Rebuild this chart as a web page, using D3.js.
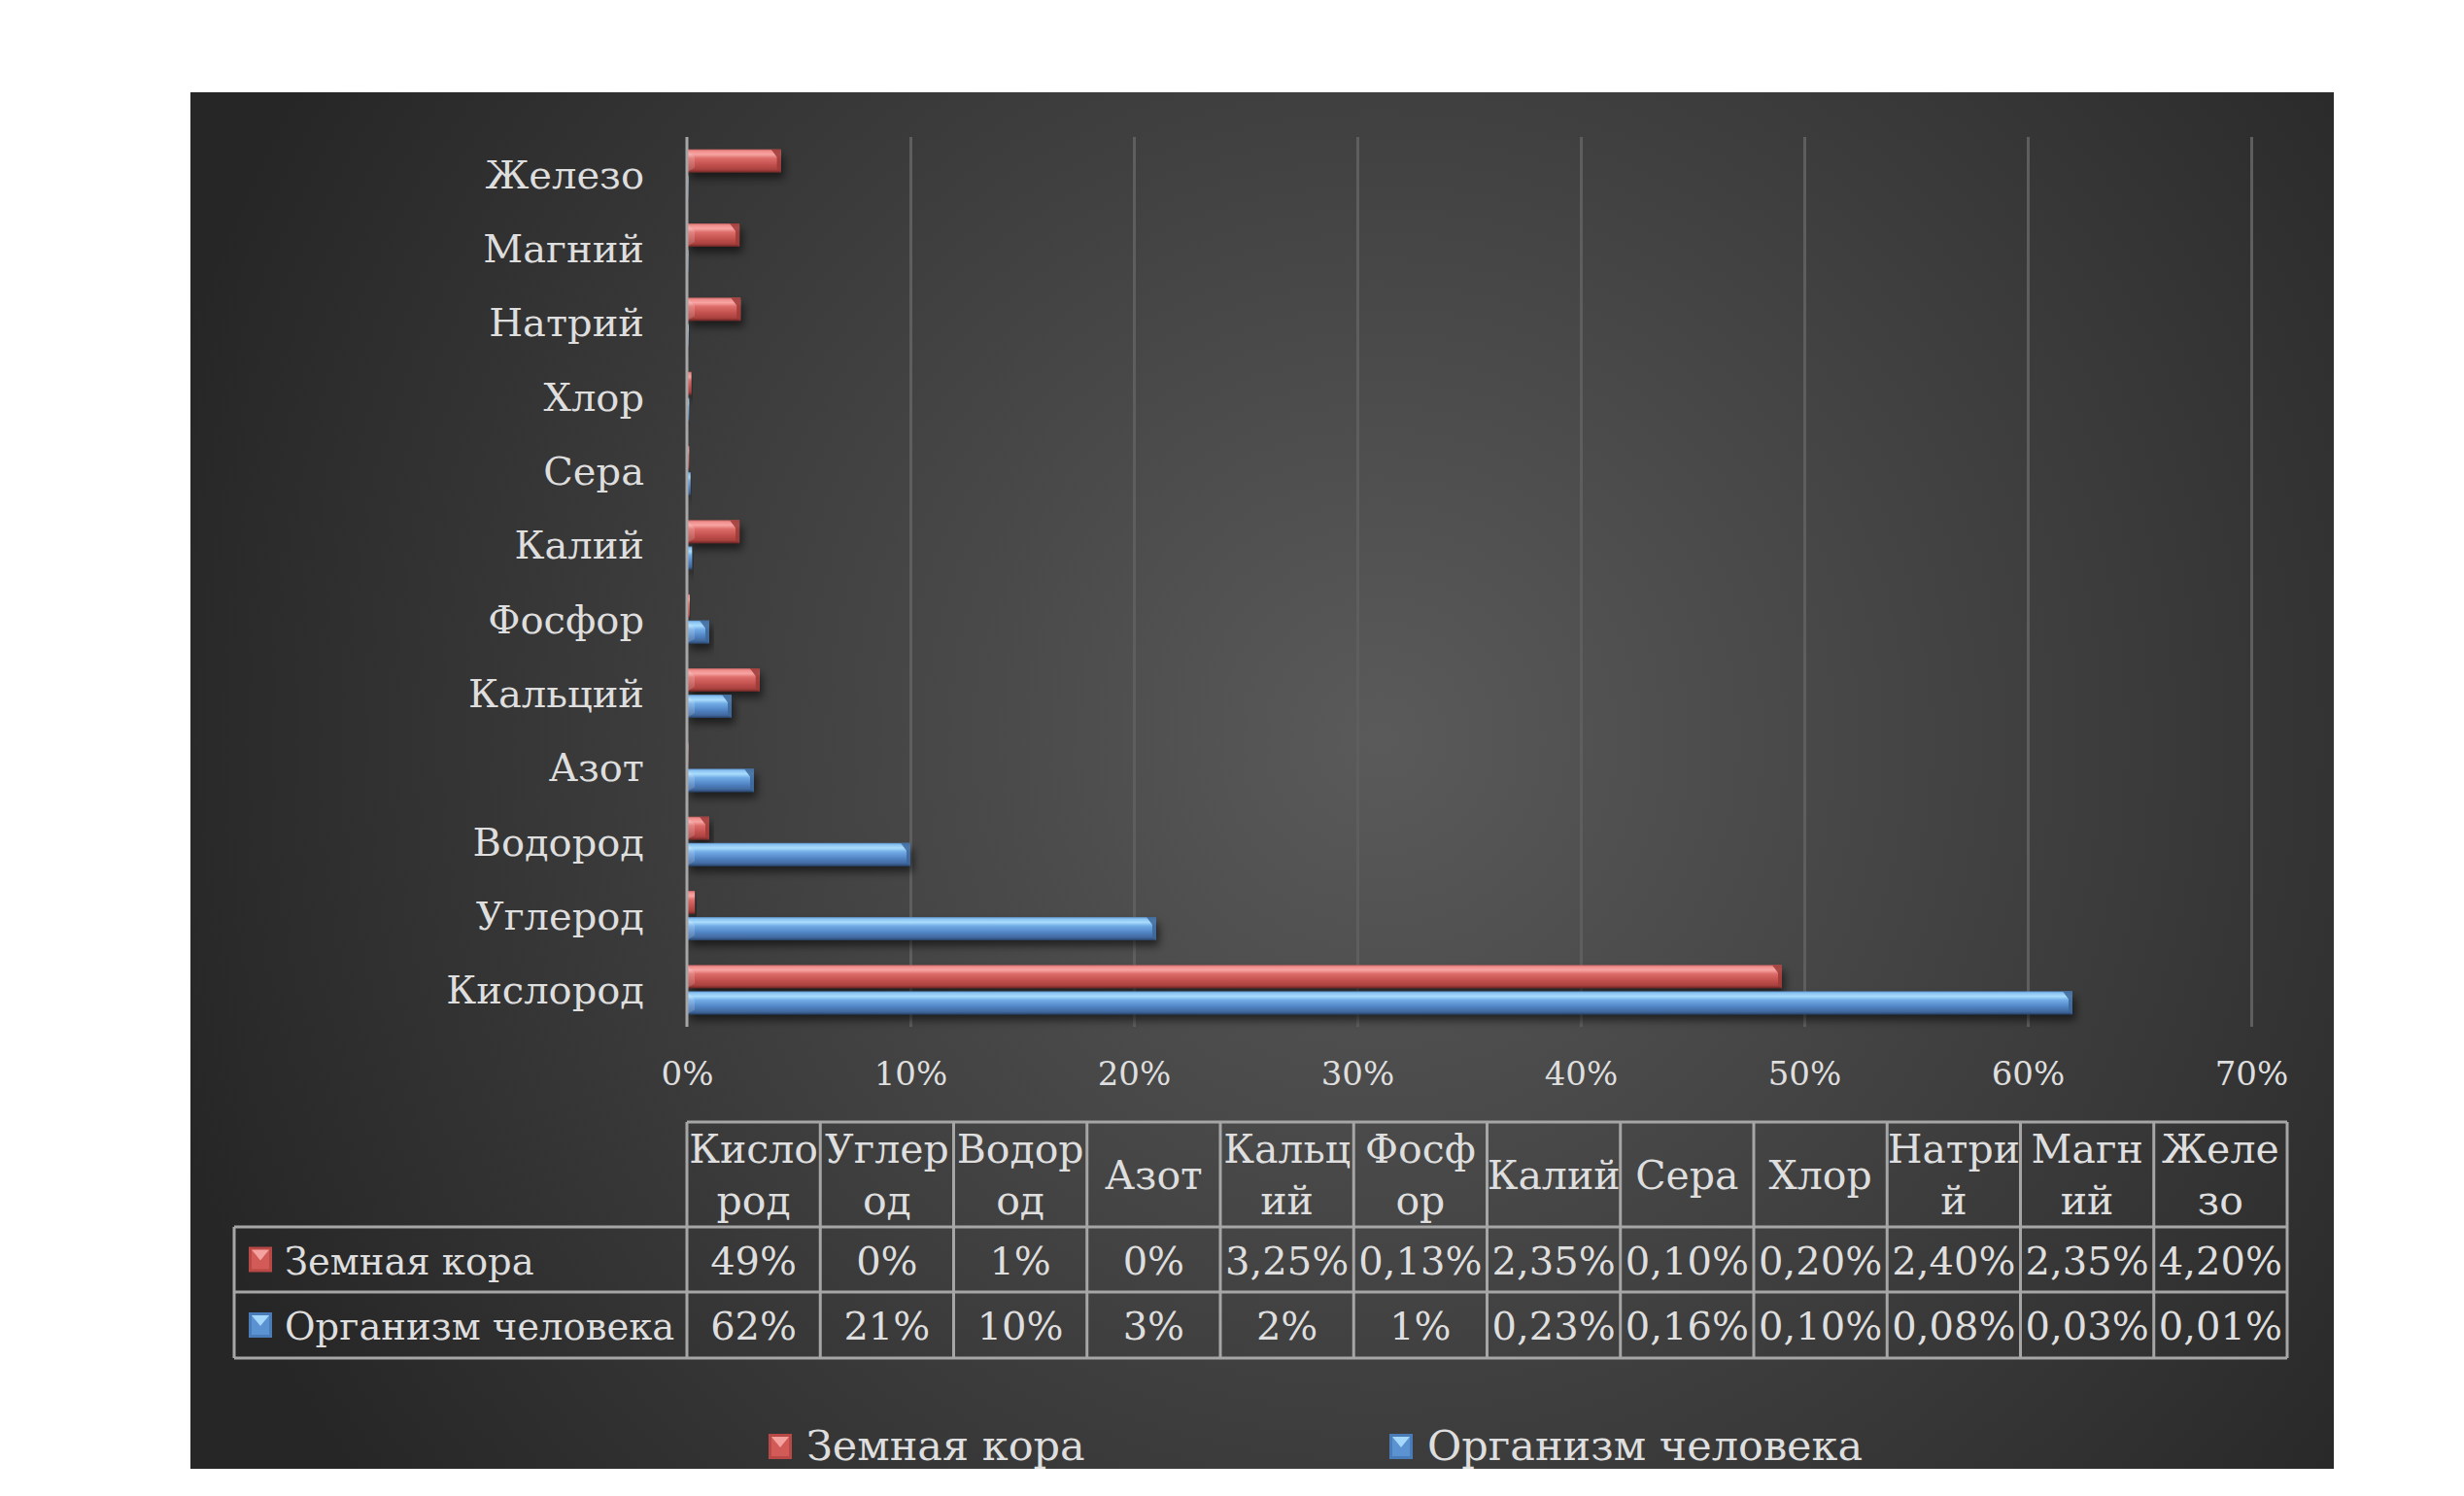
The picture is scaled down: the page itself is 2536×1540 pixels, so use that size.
<!DOCTYPE html>
<html>
<head>
<meta charset="utf-8">
<script src="https://cdn.jsdelivr.net/npm/d3@7"></script>
<style>
  html, body { margin: 0; background: #fff; overflow: hidden; }
  svg { display: block; }
  text { font-family: "DejaVu Serif", "Liberation Serif", serif; fill: #dedede; }
</style>
</head>
<body>
<div id="chart"></div>
<script>
// categories from bottom bar to top bar (same order as table columns)
var categories = ["Кислород", "Углерод", "Водород", "Азот", "Кальций", "Фосфор",
                  "Калий", "Сера", "Хлор", "Натрий", "Магний", "Железо"];
var tableHeaders = ["Кисло|род", "Углер|од", "Водор|од", "Азот", "Кальц|ий", "Фосф|ор",
                    "Калий", "Сера", "Хлор", "Натри|й", "Магн|ий", "Желе|зо"];
var seriesNames = ["Земная кора", "Организм человека"];
// percentages
var crust = [49, 0.35, 1, 0.04, 3.25, 0.13, 2.35, 0.10, 0.20, 2.40, 2.35, 4.20];
var human = [62, 21, 10, 3, 2, 1, 0.23, 0.16, 0.10, 0.08, 0.03, 0.01];
var crustLabels = ["49%", "0%", "1%", "0%", "3,25%", "0,13%", "2,35%", "0,10%", "0,20%", "2,40%", "2,35%", "4,20%"];
var humanLabels = ["62%", "21%", "10%", "3%", "2%", "1%", "0,23%", "0,16%", "0,10%", "0,08%", "0,03%", "0,01%"];
var xTicks = [0, 10, 20, 30, 40, 50, 60, 70];

var W = 2536, H = 1540;
var svg = d3.select("#chart").append("svg").attr("width", W).attr("height", H);
var defs = svg.append("defs");

// background gradient
var bg = defs.append("radialGradient").attr("id", "bg")
  .attr("gradientUnits", "userSpaceOnUse")
  .attr("cx", 1420).attr("cy", 760).attr("r", 1300);
bg.append("stop").attr("offset", "0%").attr("stop-color", "#5a5a5a");
bg.append("stop").attr("offset", "100%").attr("stop-color", "#262626");

// bar gradients (glassy 3d look)
var barStops = {
  red: [["0%", "#c96462"], ["8%", "#f08f8d"], ["22%", "#f7a5a3"], ["38%", "#dd6d6a"],
        ["65%", "#c4524f"], ["88%", "#a9413e"], ["100%", "#6e2524"]],
  blue: [["0%", "#5f96d2"], ["8%", "#8cc4f2"], ["22%", "#a9dcfc"], ["38%", "#72ace6"],
         ["65%", "#5286c6"], ["88%", "#41699f"], ["100%", "#28446b"]]
};
Object.keys(barStops).forEach(function (k) {
  var g = defs.append("linearGradient").attr("id", "g-" + k)
    .attr("x1", 0).attr("y1", 0).attr("x2", 0).attr("y2", 1);
  barStops[k].forEach(function (s) {
    g.append("stop").attr("offset", s[0]).attr("stop-color", s[1]);
  });
});
var sh = defs.append("filter").attr("id", "shadow")
  .attr("x", "-10%").attr("y", "-50%").attr("width", "130%").attr("height", "250%");
sh.append("feDropShadow").attr("dx", 3).attr("dy", 6).attr("stdDeviation", 4)
  .attr("flood-color", "#000").attr("flood-opacity", 0.55);

svg.append("rect").attr("x", 196).attr("y", 95).attr("width", 2206).attr("height", 1417)
  .attr("fill", "url(#bg)");

// scales
var x = d3.scaleLinear().domain([0, 70]).range([707, 2317]);
var y = d3.scaleBand().domain(categories.slice().reverse()).range([141, 1057])
  .paddingInner(1 / 3).paddingOuter(1 / 6);
var ySub = d3.scaleBand().domain(seriesNames).range([0, y.bandwidth()]).paddingInner(0.12);
var colorKey = d3.scaleOrdinal().domain(seriesNames).range(["red", "blue"]);

// gridlines
svg.append("g").attr("transform", "translate(0,1057)")
  .call(d3.axisBottom(x).tickValues(xTicks.slice(1)).tickSize(-(1057 - 141)).tickFormat(""))
  .call(function (g) { g.select(".domain").remove(); })
  .selectAll("line").attr("stroke", "#5e5e5e").attr("stroke-width", 3);

// bars
var rows = [];
categories.forEach(function (c, i) {
  rows.push({ cat: c, s: seriesNames[0], v: crust[i] });
  rows.push({ cat: c, s: seriesNames[1], v: human[i] });
});
var bars = svg.append("g").selectAll("g.bar").data(rows).enter().append("g")
  .attr("class", "bar")
  .attr("transform", function (d) { return "translate(0," + (y(d.cat) + ySub(d.s)) + ")"; });
var bh = ySub.bandwidth();
bars.append("rect")
  .attr("x", x(0)).attr("y", 0)
  .attr("width", function (d) { return Math.max(1.5, x(d.v) - x(0)); })
  .attr("height", bh)
  .attr("fill", function (d) { return "url(#g-" + colorKey(d.s) + ")"; })
  .attr("filter", "url(#shadow)");
// bevel at the right end
bars.filter(function (d) { return x(d.v) - x(0) > 12; }).append("path")
  .attr("d", function (d) {
    var x1 = x(d.v);
    return "M" + (x1 - 10) + ",0 L" + x1 + ",0 L" + x1 + "," + bh +
      " L" + (x1 - 4) + "," + (bh - 3) + " L" + (x1 - 4) + ",8 Z";
  })
  .attr("fill", function (d) { return colorKey(d.s) === "red" ? "#9c3a37" : "#3d6699"; })
  .attr("opacity", 0.85);
bars.filter(function (d) { return x(d.v) - x(0) > 12; }).append("path")
  .attr("d", function (d) {
    var x0 = x(0);
    return "M" + x0 + ",0 L" + (x0 + 8) + "," + 8 + " L" + (x0 + 8) + "," + (bh - 5) + " L" + x0 + "," + bh + " Z";
  })
  .attr("fill", "#ffffff").attr("opacity", 0.15);

// zero axis line
svg.append("line").attr("x1", x(0)).attr("x2", x(0)).attr("y1", 141).attr("y2", 1057)
  .attr("stroke", "#a6a6a6").attr("stroke-width", 3);

// x tick labels
svg.append("g").attr("transform", "translate(0,1057)")
  .call(d3.axisBottom(x).tickValues(xTicks).tickSize(0).tickFormat(function (d) { return d + "%"; }))
  .call(function (g) { g.select(".domain").remove(); })
  .selectAll("text").attr("y", 60).attr("dy", 0)
  .attr("font-size", 34).attr("font-family", null).attr("fill", null);

// y category labels
svg.append("g").attr("transform", "translate(707,0)")
  .call(d3.axisLeft(y).tickSize(0).tickPadding(44))
  .call(function (g) { g.select(".domain").remove(); })
  .selectAll("text").attr("dy", "0.36em")
  .attr("font-size", 40).attr("font-family", null).attr("fill", null);

// data table
var tx = d3.scaleBand().domain(categories).range([707, 2354]);
var tTop = 1155, tHead = 1263, tR1 = 1330, tR2 = 1398, tLeft = 241;
var tbl = svg.append("g");
var lineColor = "#a6a6a6";
function hline(x1, x2, yy) {
  tbl.append("line").attr("x1", x1).attr("x2", x2).attr("y1", yy).attr("y2", yy)
    .attr("stroke", lineColor).attr("stroke-width", 3);
}
hline(707, 2354, tTop);
hline(tLeft, 2354, tHead);
hline(tLeft, 2354, tR1);
hline(tLeft, 2354, tR2);
tbl.append("line").attr("x1", tLeft).attr("x2", tLeft).attr("y1", tHead).attr("y2", tR2)
  .attr("stroke", lineColor).attr("stroke-width", 3);
tbl.selectAll("line.col").data(categories.concat(["end"])).enter().append("line")
  .attr("class", "col")
  .attr("x1", function (d, i) { return 707 + i * tx.step(); })
  .attr("x2", function (d, i) { return 707 + i * tx.step(); })
  .attr("y1", tTop).attr("y2", tR2)
  .attr("stroke", lineColor).attr("stroke-width", 3);

var headText = tbl.selectAll("text.head").data(categories).enter().append("text")
  .attr("class", "head")
  .attr("text-anchor", "middle").attr("font-size", 41);
headText.each(function (d, i) {
  var parts = tableHeaders[i].split("|");
  var cx = tx(d) + tx.bandwidth() / 2;
  var base = parts.length === 1 ? 1224 : 1197;
  var t = d3.select(this);
  parts.forEach(function (p, j) {
    t.append("tspan").attr("x", cx).attr("y", base + j * 53).text(p);
  });
});
[crustLabels, humanLabels].forEach(function (labels, r) {
  var yy = r === 0 ? 1312 : 1379;
  tbl.selectAll("text.v" + r).data(labels).enter().append("text")
    .attr("class", "v" + r)
    .attr("x", function (d, i) { return tx(categories[i]) + tx.bandwidth() / 2; })
    .attr("y", yy).attr("text-anchor", "middle").attr("font-size", 40)
    .text(function (d) { return d; });
});

function marker(g, xx, yy, key) {
  g.append("rect").attr("x", xx).attr("y", yy).attr("width", 24).attr("height", 26)
    .attr("fill", key === "red" ? "#b94946" : "#4a7cba");
  g.append("rect").attr("x", xx + 3).attr("y", yy + 3).attr("width", 18).attr("height", 20)
    .attr("fill", key === "red" ? "#d25a57" : "#5a92d2");
  g.append("path")
    .attr("d", "M" + (xx + 3) + "," + (yy + 3) + " L" + (xx + 21) + "," + (yy + 3) + " L" + (xx + 12) + "," + (yy + 14) + " Z")
    .attr("fill", key === "red" ? "#f4a2a0" : "#a6d8fb");
}
seriesNames.forEach(function (s, r) {
  var cy = r === 0 ? (tHead + tR1) / 2 : (tR1 + tR2) / 2;
  marker(tbl, 256, cy - 13, colorKey(s));
  tbl.append("text").attr("x", 293).attr("y", r === 0 ? 1312 : 1379)
    .attr("font-size", 38.5).text(s);
});

// legend
var legendX = [791, 1430];
var leg = svg.append("g");
seriesNames.forEach(function (s, i) {
  marker(leg, legendX[i], 1476, colorKey(s));
  leg.append("text").attr("x", legendX[i] + 39).attr("y", 1503)
    .attr("font-size", 43).text(s);
});
</script>
</body>
</html>
